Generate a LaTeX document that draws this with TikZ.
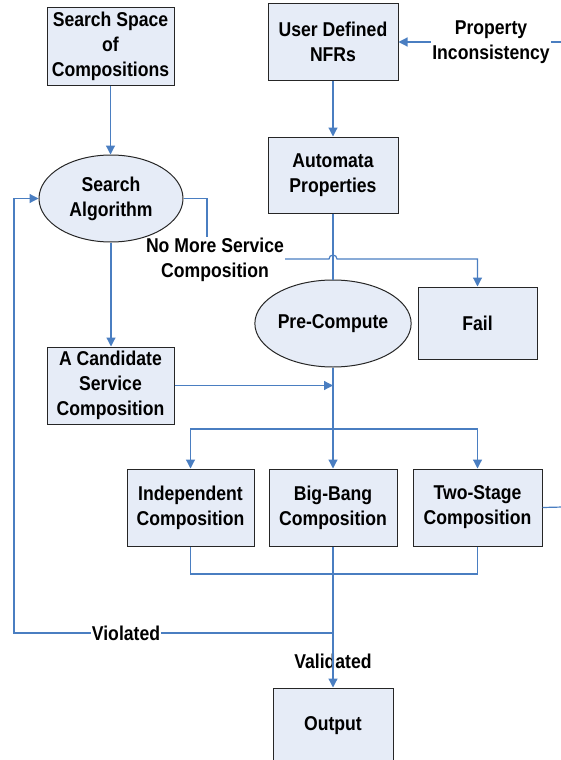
\documentclass[tikz,border=0pt]{standalone}
\usepackage{fontspec}
\setmainfont{Liberation Sans}[FakeStretch=0.88]
\usetikzlibrary{arrows.meta,shapes.geometric}
\definecolor{ln}{RGB}{74,126,193}
\definecolor{bx}{RGB}{230,236,247}
\tikzset{
  txt/.style={font=\bfseries\fontsize{20}{25}\selectfont, align=center},
  box/.style={txt, draw=black!85, fill=bx, line width=1pt, inner sep=0pt},
  oval/.style={box, ellipse},
  lbl/.style={txt, inner sep=1pt},
  conn/.style={draw=ln, line width=1.2pt},
  arr/.style={conn, -{Triangle[length=9pt,width=9pt]}}
}
\begin{document}
\begin{tikzpicture}[x=1pt,y=-1pt]
\useasboundingbox (0,0) rectangle (561,760);
% nodes
\node[box, minimum width=127pt, minimum height=77pt] (ss) at (110.5,46.5) {Search Space\\of\\Compositions};
\node[oval, minimum width=144pt, minimum height=87pt] (sa) at (111,198.5) {Search\\Algorithm};
\node[box, minimum width=127pt, minimum height=77pt] (cand) at (110.5,385.5) {A Candidate\\Service\\Composition};
\node[box, minimum width=130pt, minimum height=76pt] (nfr) at (333,42) {User Defined\\NFRs};
\node[box, minimum width=130pt, minimum height=76pt] (auto) at (333,175) {Automata\\Properties};
\node[oval, minimum width=144pt, minimum height=87pt] (pc) at (333,323.5) {Pre-Compute};
\node[box, minimum width=119pt, minimum height=72pt] (fail) at (477.5,323) {Fail};
\node[box, minimum width=127pt, minimum height=77pt] (indep) at (190.5,507.5) {Independent\\Composition};
\node[box, minimum width=128pt, minimum height=77pt] (bb) at (333,507.5) {Big-Bang\\Composition};
\node[box, minimum width=129pt, minimum height=77pt] (ts) at (477.5,507.5) {Two-Stage\\Composition};
\node[box, minimum width=120pt, minimum height=76pt] (out) at (333,726) {Output};
% labels
\node[lbl] (prop) at (491,42) {Property\\Inconsistency};
\node[lbl] (nm) at (215,260) {No More Service\\Composition};
\node[lbl, fill=white] (viol) at (126,633) {Violated};
\node[lbl] (valid) at (333,661) {Validated};
% coordinates
\coordinate (j1) at (333,429);
\coordinate (j2) at (333,574);
\coordinate (j3) at (333,633);
\coordinate (lp) at (14,633);
\coordinate (pe) at (563,42);
\coordinate (te) at (563,507);
\coordinate (hop) at (329,259);
% connectors
\draw[arr] (ss.south) -- (ss.south |- sa.north);
\draw[arr] (sa.south) -- (sa.south |- cand.north);
\draw[arr] (nfr) -- (auto);
\draw[conn] (auto.south) -- (pc.north);
\draw[conn] (sa.east) -| ([xshift=-8pt]nm.north);
\draw[arr] (nm.east |- hop) -- (hop) arc[start angle=180, end angle=0, radius=4pt] -| (fail.north);
\draw[arr] (prop.west) -- (nfr.east);
\draw[conn] (prop.east) -- (pe);
\draw[conn] (pc.south) -- (j1);
\draw[arr] (cand.east) -- (cand.east -| j1);
\draw[arr] (j1) -| (indep.north);
\draw[arr] (j1) -- (bb.north);
\draw[arr] (j1) -| (ts.north);
\draw[conn] (ts.east) -- (te);
\draw[conn] (indep.south) |- (j2);
\draw[conn] (ts.south) |- (j2);
\draw[arr] (bb.south) -- (out.north);
\draw[conn] (j3) -- (viol.east);
\draw[arr] (viol.west) -- (lp) |- (sa.west);
\end{tikzpicture}
\end{document}
